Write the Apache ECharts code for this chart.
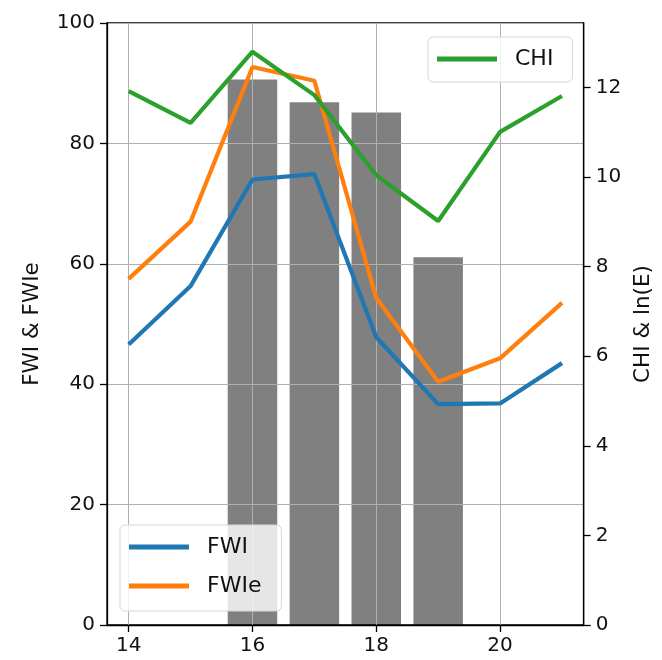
<!DOCTYPE html>
<html><head><meta charset="utf-8">
<script src="https://cdn.jsdelivr.net/npm/echarts@6/dist/echarts.min.js"></script>
<style>html,body{margin:0;padding:0;background:#fff}#c{width:662px;height:660px}</style>
</head><body><div id="c"></div>
<script>
const hours = [14, 15, 16, 17, 18, 19, 20, 21];
const fwi = [46.6, 56.3, 74.0, 74.9, 47.8, 36.7, 36.8, 43.5];
const fwie = [57.5, 67.0, 92.7, 90.4, 54.3, 40.4, 44.3, 53.5];
const chi = [11.92, 11.21, 12.80, 11.83, 10.04, 9.02, 11.01, 11.81];
const barHours = [16, 17, 18, 19];
const lnE = [12.18, 11.67, 11.44, 8.21];
const xTicks = [14, 16, 18, 20];
const rightTicks = [0, 2, 4, 6, 8, 10, 12];

const FONT = 'DejaVu Sans';
const BAR_HALF = 0.4;

const chart = echarts.init(document.getElementById('c'), null, {renderer: 'canvas'});
const axisCommon = {
  axisLine: {show: true, lineStyle: {color: '#000', width: 1.3}},
  axisTick: {show: true, inside: false, length: 7, lineStyle: {color: '#000', width: 1.3}},
  axisLabel: {color: '#111', fontSize: 20, fontFamily: FONT},
  nameTextStyle: {color: '#111', fontSize: 21.5, fontFamily: FONT}
};
chart.setOption({
  animation: false,
  backgroundColor: '#fff',
  grid: {left: 107, right: 77, top: 23, bottom: 35, show: true, borderColor: '#000', borderWidth: 1.3, backgroundColor: 'transparent'},
  legend: [
    {
      data: ['CHI'], orient: 'vertical', left: 428, top: 37,
      icon: 'rect', itemWidth: 60, itemHeight: 5, itemGap: 17,
      padding: [11, 19, 12, 9],
      backgroundColor: 'rgba(255,255,255,0.8)', borderColor: '#d6d6d6', borderWidth: 1, borderRadius: 5,
      textStyle: {fontSize: 22, fontFamily: FONT, color: '#111', padding: [0, 0, 0, 13]}
    },
    {
      data: ['FWI', 'FWIe'], orient: 'vertical', left: 120, top: 525,
      icon: 'rect', itemWidth: 60, itemHeight: 5, itemGap: 17,
      padding: [11, 20, 14, 9],
      backgroundColor: 'rgba(255,255,255,0.8)', borderColor: '#d6d6d6', borderWidth: 1, borderRadius: 5,
      textStyle: {fontSize: 22, fontFamily: FONT, color: '#111', padding: [0, 0, 0, 13]}
    }
  ],
  xAxis: {
    type: 'value', min: 13.65, max: 21.35,
    ...axisCommon,
    axisTick: {...axisCommon.axisTick, customValues: xTicks},
    axisLabel: {...axisCommon.axisLabel, margin: 11, customValues: xTicks},
    splitLine: {show: true, lineStyle: {color: '#b0b0b0', width: 1}}
  },
  yAxis: [
    {
      type: 'value', min: 0, max: 100, interval: 20, position: 'left',
      name: 'FWI & FWIe', nameLocation: 'middle', nameGap: 64, nameRotate: 90,
      ...axisCommon,
      axisLabel: {...axisCommon.axisLabel, margin: 12},
      splitLine: {show: true, lineStyle: {color: '#b0b0b0', width: 1}}
    },
    {
      type: 'value', min: 0, max: 13.44, interval: 2, position: 'right',
      name: 'CHI & ln(E)', nameLocation: 'middle', nameGap: 44, nameRotate: 90,
      ...axisCommon,
      axisTick: {...axisCommon.axisTick, customValues: rightTicks},
      axisLabel: {...axisCommon.axisLabel, margin: 12, customValues: rightTicks},
      splitLine: {show: false}
    }
  ],
  series: [
    {
      type: 'custom', name: 'ln(E)', yAxisIndex: 1, z: -1,
      data: barHours.map((h, i) => [h, lnE[i]]),
      renderItem: (params, api) => {
        const x = api.value(0), v = api.value(1);
        const p0 = api.coord([x - BAR_HALF, v]);
        const p1 = api.coord([x + BAR_HALF, 0]);
        return {type: 'rect', shape: {x: p0[0], y: p0[1], width: p1[0] - p0[0], height: p1[1] - p0[1]}, style: {fill: '#808080'}};
      }
    },
    {type: 'line', name: 'FWI', yAxisIndex: 0, data: hours.map((h, i) => [h, fwi[i]]), symbol: 'none', color: '#1f77b4', lineStyle: {width: 4.2, color: '#1f77b4'}},
    {type: 'line', name: 'FWIe', yAxisIndex: 0, data: hours.map((h, i) => [h, fwie[i]]), symbol: 'none', color: '#ff7f0e', lineStyle: {width: 4.2, color: '#ff7f0e'}},
    {type: 'line', name: 'CHI', yAxisIndex: 1, data: hours.map((h, i) => [h, chi[i]]), symbol: 'none', color: '#2ca02c', lineStyle: {width: 4.2, color: '#2ca02c'}}
  ]
});
</script></body></html>
